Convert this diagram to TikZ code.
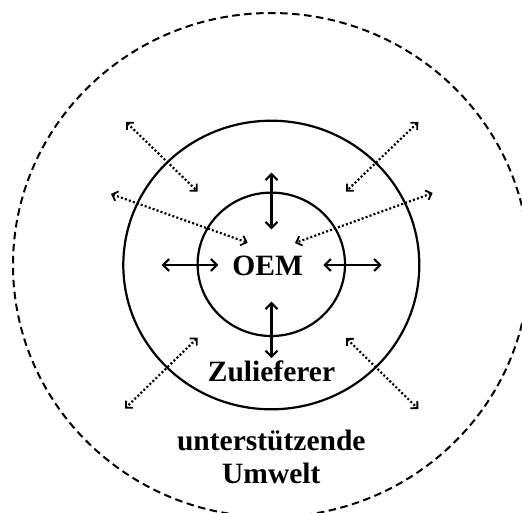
\documentclass[tikz,border=0pt]{standalone}
\usepackage{fontspec}
\setmainfont{Liberation Serif}
\usetikzlibrary{arrows.meta,shapes.geometric}
\tikzset{
  ring/.style={draw, ellipse, inner sep=0pt, line width=2.2pt},
  envring/.style={draw, ellipse, inner sep=0pt, line width=2pt, dash pattern=on 7.5pt off 4.5pt},
  solidarrow/.style={line width=2.1pt, {Straight Barb[length=6pt,width=12pt]}-{Straight Barb[length=6pt,width=12pt]}},
  dotarrow/.style={line width=2.2pt, dash pattern=on 2pt off 2.2pt, {Straight Barb[length=5pt,width=10pt,line width=1.8pt]}-{Straight Barb[length=5pt,width=10pt,line width=1.8pt]}},
  lbl/.style={inner sep=0pt, font=\bfseries\fontsize{29.5}{33.5}\selectfont, anchor=base}
}
\begin{document}
\begin{tikzpicture}[x=1pt,y=-1pt]
\fill[white] (0,0) rectangle (522,512);
\useasboundingbox (0,0) rectangle (522,512);
\begin{scope}
\clip (0,0) rectangle (522,512);
\node[envring, minimum width=516pt, minimum height=504pt] (env) at (271,265) {};
\end{scope}
\node[ring, minimum width=296pt, minimum height=288.6pt] (sup) at (271.3,265) {};
\node[ring, minimum width=147.4pt, minimum height=143.4pt] (oemc) at (271.3,264.3) {};

\node[lbl] (oem) at (267.7,275) {OEM};
\node[lbl] (zul) at (271.5,381.7) {Zulieferer};
\node[inner sep=0pt, font=\bfseries\fontsize{29.5}{33.5}\selectfont, align=center] (umw) at (271.3,457) {unterstützende\\Umwelt};

% solid arrows
\coordinate (va1) at (271.5,172.7); \coordinate (vb1) at (271.5,229.3);
\coordinate (va2) at (271.5,301.7); \coordinate (vb2) at (271.5,358);
\coordinate (ha1) at (161.7,265);   \coordinate (hb1) at (218.3,265);
\coordinate (ha2) at (323.3,265);   \coordinate (hb2) at (381.7,265);
\draw[solidarrow] (va1) -- (vb1);
\draw[solidarrow] (va2) -- (vb2);
\draw[solidarrow] (ha1) -- (hb1);
\draw[solidarrow] (ha2) -- (hb2);

% dotted arrows
\coordinate (d1a) at (126,122);     \coordinate (d1b) at (197.7,191.5);
\coordinate (d2a) at (111,194);     \coordinate (d2b) at (247.7,242.7);
\coordinate (d3a) at (418.3,122);   \coordinate (d3b) at (346,191.5);
\coordinate (d4a) at (432.7,193);   \coordinate (d4b) at (295,243);
\coordinate (d5a) at (197.7,337.7); \coordinate (d5b) at (125,408.5);
\coordinate (d6a) at (346,338);     \coordinate (d6b) at (418.3,409);
\draw[dotarrow] (d1a) -- (d1b);
\draw[dotarrow] (d2a) -- (d2b);
\draw[dotarrow] (d3a) -- (d3b);
\draw[dotarrow] (d4a) -- (d4b);
\draw[dotarrow] (d5a) -- (d5b);
\draw[dotarrow] (d6a) -- (d6b);
\end{tikzpicture}
\end{document}
